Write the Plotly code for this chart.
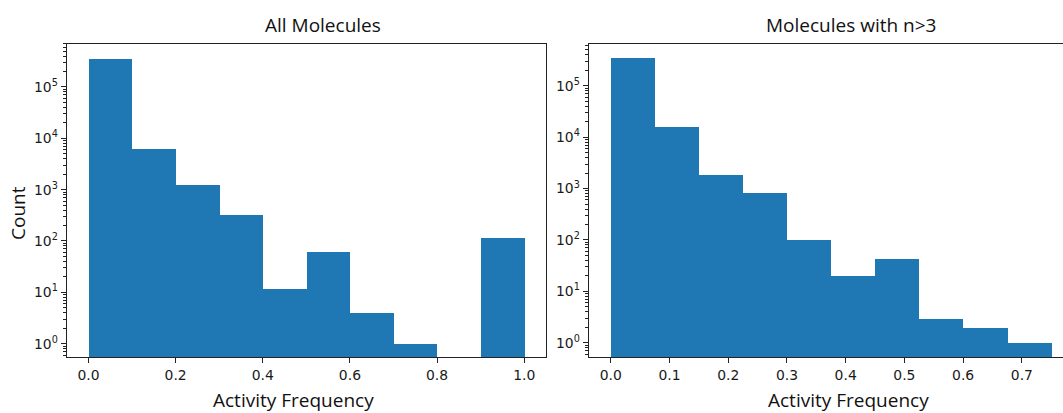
import plotly.graph_objects as go

# ---- data ----
left_edges = [0.0, 0.1, 0.2, 0.3, 0.4, 0.5, 0.6, 0.7, 0.8, 0.9, 1.0]
left_counts = [365000, 6450, 1235, 332, 12, 62, 4, 1, None, 117]

right_edges = [0.0, 0.075, 0.15, 0.225, 0.3, 0.375, 0.45, 0.525, 0.6, 0.675, 0.75]
right_counts = [351000, 16100, 1840, 822, 102, 20, 44, 3, 2, 1]

left_xticks = [0.0, 0.2, 0.4, 0.6, 0.8, 1.0]
right_xticks = [0.0, 0.1, 0.2, 0.3, 0.4, 0.5, 0.6, 0.7]
y_tickvals = [1, 10, 100, 1000, 10000, 100000]
y_ticktext = ["10<sup>0</sup>", "10<sup>1</sup>", "10<sup>2</sup>",
              "10<sup>3</sup>", "10<sup>4</sup>", "10<sup>5</sup>"]

titles = ["All Molecules", "Molecules with n>3"]
xlabel = "Activity Frequency"
ylabel = "Count"

BLUE = "#1f77b4"
W, H = 1063, 413


def centers(edges):
    return [(a + b) / 2 for a, b in zip(edges[:-1], edges[1:])]


def widths(edges):
    return [b - a for a, b in zip(edges[:-1], edges[1:])]


minor_vals = [m * 10 ** k for k in range(-1, 6) for m in range(2, 10)]

fig = go.Figure()
fig.add_trace(go.Bar(x=centers(left_edges), y=left_counts, width=widths(left_edges),
                     marker=dict(color=BLUE, line=dict(width=0)),
                     xaxis="x", yaxis="y", showlegend=False))
fig.add_trace(go.Bar(x=centers(right_edges), y=right_counts, width=widths(right_edges),
                     marker=dict(color=BLUE, line=dict(width=0)),
                     xaxis="x2", yaxis="y2", showlegend=False))

tick_font = dict(family="DejaVu Sans", size=13.9, color="#1a1a1a")
label_font = dict(family="Open Sans", size=19, color="#111")

ydom = [(H - 357) / H, (H - 43.5) / H]
common_x = dict(showline=True, linecolor="#222", linewidth=1.2, ticks="outside",
                ticklen=5, tickwidth=1, tickcolor="#222", showgrid=False,
                zeroline=False, tickfont=tick_font)
common_y = dict(type="log", showline=True, linecolor="#222", linewidth=1.2,
                ticks="outside", ticklen=5, tickwidth=1, tickcolor="#222",
                showgrid=False, zeroline=False, tickfont=tick_font,
                tickvals=y_tickvals, ticktext=y_ticktext,
                minor=dict(tickvals=minor_vals, ticks="outside", ticklen=3,
                           tickcolor="#222", tickwidth=0.8, showgrid=False))

fig.update_layout(
    width=W, height=H,
    margin=dict(l=0, r=0, t=0, b=0),
    paper_bgcolor="white", plot_bgcolor="white",
    bargap=0,
    xaxis=dict(domain=[66.7 / W, 546 / W], range=[-0.05, 1.05],
               tickvals=left_xticks, ticktext=[f"{v:.1f}" for v in left_xticks],
               mirror=True, anchor="y", **common_x),
    yaxis=dict(domain=ydom, range=[-0.26, 5.847], mirror=True, anchor="x", **common_y),
    xaxis2=dict(domain=[588.7 / W, 1.0], range=[-0.0375, 0.770],
                tickvals=right_xticks, ticktext=[f"{v:.1f}" for v in right_xticks],
                mirror=True, anchor="y2", **common_x),
    yaxis2=dict(domain=ydom, range=[-0.277, 5.823], mirror=False, anchor="x2", **common_y),
)

annots = [
    dict(text=titles[0], x=322.8 / W, y=(H - 25) / H),
    dict(text=titles[1], x=851 / W, y=(H - 25) / H),
    dict(text=xlabel, x=293 / W, y=(H - 400) / H),
    dict(text=xlabel, x=848.8 / W, y=(H - 400) / H),
]
for a in annots:
    fig.add_annotation(xref="paper", yref="paper", showarrow=False,
                       xanchor="center", yanchor="middle", font=label_font, **a)
fig.add_annotation(xref="paper", yref="paper", showarrow=False, text=ylabel,
                   x=18 / W, y=(H - 213) / H, textangle=-90,
                   xanchor="center", yanchor="middle", font=label_font)

fig.write_html("out.html",
               config={"displayModeBar": False},
               post_script="document.body.style.margin='0';document.body.style.overflow='hidden';")
